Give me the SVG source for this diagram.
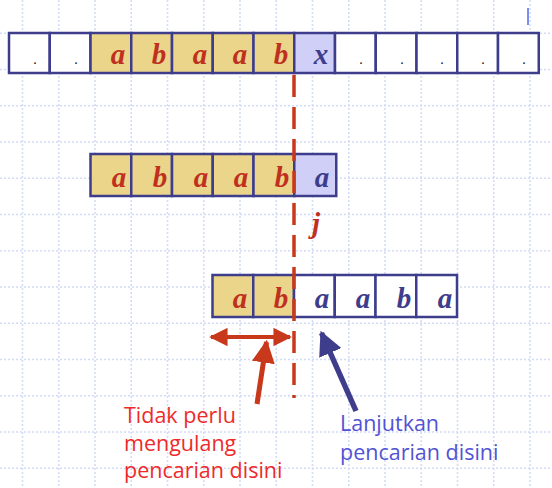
<svg xmlns="http://www.w3.org/2000/svg" width="552" height="488" viewBox="0 0 552 488">
<style>
.grid line{stroke:#d3dcf6;stroke-width:1.6;stroke-dasharray:2 2}
.cell{stroke:#3d3d8c;stroke-width:2.5}
.y{fill:#ead58a}
.w{fill:#ffffff}
.b{fill:#cfcff8}
.lr{font-family:"Liberation Serif",serif;font-style:italic;font-weight:bold;font-size:29px;fill:#c0301e;text-anchor:middle}
.lb{font-family:"Liberation Serif",serif;font-style:italic;font-weight:bold;font-size:29px;fill:#3d3d8c;text-anchor:middle}
.dot{font-family:"Liberation Serif",serif;font-size:14px;fill:#111;text-anchor:middle}
.tr{font-family:"Open Sans",sans-serif;font-size:21.5px;fill:#ee2a2a}
.tb{font-family:"Open Sans",sans-serif;font-size:21.5px;fill:#5252d4}
</style>
<defs>
<marker id="ar" viewBox="0 0 10 10" refX="9" refY="5" markerWidth="4.6" markerHeight="4.6" orient="auto-start-reverse" markerUnits="strokeWidth"><path d="M0,0L10,5L0,10z" fill="#c8381a"/></marker>
<marker id="ab" viewBox="0 0 10 10" refX="9" refY="5" markerWidth="4.4" markerHeight="4.4" orient="auto" markerUnits="strokeWidth"><path d="M0,0L10,5L0,10z" fill="#3d3d8c"/></marker>
</defs>
<rect width="552" height="488" fill="#ffffff"/>
<g class="grid">
<line x1="22.5" y1="0" x2="22.5" y2="488"/><line x1="58.75" y1="0" x2="58.75" y2="488"/><line x1="95" y1="0" x2="95" y2="488"/><line x1="131.25" y1="0" x2="131.25" y2="488"/><line x1="167.5" y1="0" x2="167.5" y2="488"/><line x1="203.75" y1="0" x2="203.75" y2="488"/><line x1="240" y1="0" x2="240" y2="488"/><line x1="276.25" y1="0" x2="276.25" y2="488"/><line x1="312.5" y1="0" x2="312.5" y2="488"/><line x1="348.75" y1="0" x2="348.75" y2="488"/><line x1="385" y1="0" x2="385" y2="488"/><line x1="421.25" y1="0" x2="421.25" y2="488"/><line x1="457.5" y1="0" x2="457.5" y2="488"/><line x1="493.75" y1="0" x2="493.75" y2="488"/><line x1="530" y1="0" x2="530" y2="488"/>
<line x1="0" y1="33.3" x2="552" y2="33.3"/><line x1="0" y1="69.55" x2="552" y2="69.55"/><line x1="0" y1="105.8" x2="552" y2="105.8"/><line x1="0" y1="142.05" x2="552" y2="142.05"/><line x1="0" y1="178.3" x2="552" y2="178.3"/><line x1="0" y1="214.55" x2="552" y2="214.55"/><line x1="0" y1="250.8" x2="552" y2="250.8"/><line x1="0" y1="287.05" x2="552" y2="287.05"/><line x1="0" y1="323.3" x2="552" y2="323.3"/><line x1="0" y1="359.55" x2="552" y2="359.55"/><line x1="0" y1="395.8" x2="552" y2="395.8"/><line x1="0" y1="432.05" x2="552" y2="432.05"/><line x1="0" y1="468.3" x2="552" y2="468.3"/>
</g>
<line x1="528" y1="8" x2="528" y2="25" stroke="#7f8ff0" stroke-width="2"/>
<g id="text-row">
<rect class="cell w" x="9" y="33" width="40.75" height="40"/><text class="dot" x="35" y="64">.</text>
<rect class="cell w" x="49.75" y="33" width="40.75" height="40"/><text class="dot" x="76" y="64">.</text>
<rect class="cell y" x="90.5" y="33" width="40.75" height="40"/><text class="lr" x="118" y="64">a</text>
<rect class="cell y" x="131.25" y="33" width="40.75" height="40"/><text class="lr" x="159" y="64">b</text>
<rect class="cell y" x="172" y="33" width="40.75" height="40"/><text class="lr" x="200" y="64">a</text>
<rect class="cell y" x="212.75" y="33" width="40.75" height="40"/><text class="lr" x="240" y="64">a</text>
<rect class="cell y" x="253.5" y="33" width="40.75" height="40"/><text class="lr" x="281" y="64">b</text>
<rect class="cell b" x="294.25" y="33" width="40.75" height="40"/><text class="lb" x="321" y="64">x</text>
<rect class="cell w" x="335" y="33" width="40.75" height="40"/><text class="dot" x="361" y="64">.</text>
<rect class="cell w" x="375.75" y="33" width="40.75" height="40"/><text class="dot" x="402" y="64">.</text>
<rect class="cell w" x="416.5" y="33" width="40.75" height="40"/><text class="dot" x="442" y="64">.</text>
<rect class="cell w" x="457.25" y="33" width="40.75" height="40"/><text class="dot" x="483" y="64">.</text>
<rect class="cell w" x="498" y="33" width="40.75" height="40"/><text class="dot" x="524" y="64">.</text>
</g>
<g id="pattern-row1">
<rect class="cell y" x="90.5" y="154" width="40.75" height="42"/><text class="lr" x="119" y="187">a</text>
<rect class="cell y" x="131.25" y="154" width="40.75" height="42"/><text class="lr" x="160" y="187">b</text>
<rect class="cell y" x="172" y="154" width="40.75" height="42"/><text class="lr" x="201" y="187">a</text>
<rect class="cell y" x="212.75" y="154" width="40.75" height="42"/><text class="lr" x="241" y="187">a</text>
<rect class="cell y" x="253.5" y="154" width="40.75" height="42"/><text class="lr" x="282" y="187">b</text>
<rect class="cell b" x="294.25" y="154" width="42" height="42"/><text class="lb" x="322" y="187">a</text>
</g>
<g id="j-label"><text class="lr" x="316" y="233">j</text></g>
<g id="pattern-row2">
<rect class="cell y" x="212.5" y="275" width="40.75" height="42"/><text class="lr" x="240" y="308">a</text>
<rect class="cell y" x="253.25" y="275" width="40.75" height="42"/><text class="lr" x="281" y="308">b</text>
<rect class="cell w" x="294" y="275" width="40.75" height="42"/><text class="lb" x="322" y="308">a</text>
<rect class="cell w" x="334.75" y="275" width="40.75" height="42"/><text class="lb" x="363" y="308">a</text>
<rect class="cell w" x="375.5" y="275" width="40.75" height="42"/><text class="lb" x="404" y="308">b</text>
<rect class="cell w" x="416.25" y="275" width="40.75" height="42"/><text class="lb" x="445" y="308">a</text>
</g>
<g id="connectors">
<line x1="294" y1="75" x2="294" y2="398" stroke="#c8381a" stroke-width="3.5" stroke-dasharray="22 10"/>
<line x1="211" y1="337" x2="290" y2="337" stroke="#c8381a" stroke-width="4" marker-start="url(#ar)" marker-end="url(#ar)"/>
<line x1="257" y1="404" x2="266.5" y2="342" stroke="#c8381a" stroke-width="5" marker-end="url(#ar)"/>
<line x1="356" y1="411" x2="321.5" y2="333" stroke="#3d3d8c" stroke-width="5.5" marker-end="url(#ab)"/>
</g>
<g id="label-left">
<text class="tr" x="124" y="423">Tidak perlu</text>
<text class="tr" x="124" y="451">mengulang</text>
<text class="tr" x="124" y="478">pencarian disini</text>
</g>
<g id="label-right">
<text class="tb" x="340" y="431">Lanjutkan</text>
<text class="tb" x="340" y="460">pencarian disini</text>
</g>
</svg>
